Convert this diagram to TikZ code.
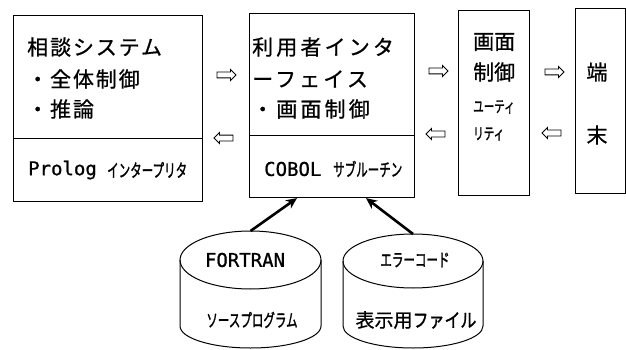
\documentclass[tikz,border=0pt]{standalone}
\usepackage{fontspec}
\usepackage{graphicx}
\usetikzlibrary{shapes.arrows,arrows.meta}
\newfontfamily\jp[LetterSpace=9,FakeBold=0.8]{Noto Sans CJK JP}
\newfontfamily\jpw[LetterSpace=15,FakeBold=0.8]{Noto Sans CJK JP}
\newfontfamily\jpn[FakeBold=0.8]{Noto Sans CJK JP}
\newfontfamily\jpk[FakeBold=1.6]{Noto Sans CJK JP}
\newfontfamily\mono[FakeBold=0.8]{DejaVu Sans Mono}
\newcommand\hkx[3]{\scalebox{#2}[1]{\jpk\fontsize{#1}{#1}\selectfont #3}}
\newcommand\hk[1]{\hkx{18}{0.64}{#1}}
\begin{document}
\begin{tikzpicture}[x=1pt,y=-1pt,
  frame/.style={draw, line width=1.1pt, inner sep=0, anchor=north west},
  big/.style={font=\jp\fontsize{21}{21}\selectfont, inner sep=0, anchor=west},
  bigw/.style={font=\jpw\fontsize{21}{21}\selectfont, inner sep=0, anchor=west},
  bign/.style={font=\jpn\fontsize{21}{21}\selectfont, inner sep=0, anchor=west},
  lat/.style={font=\mono\fontsize{19}{19}\selectfont, inner sep=0, anchor=west},
  kana/.style={inner sep=0, anchor=west},
  harrow/.style={single arrow, draw, line width=0.9pt, inner sep=2.5pt,
    single arrow head extend=2.5pt, minimum height=19pt},
  larrow/.style={harrow, shape border rotate=180},
  cyl/.style={draw, line width=1pt},
  heavy/.style={-{Stealth[length=11pt,width=10pt]}, line width=2.6pt}
]
\useasboundingbox (0,0) rectangle (626,350);

% boxes
\node[frame, minimum width=189pt, minimum height=123pt] (b1a) at (13,15) {};
\node[frame, minimum width=189pt, minimum height=63pt] (b1b) at (13,138) {};
\node[frame, minimum width=165pt, minimum height=122pt] (b2a) at (249,13) {};
\node[frame, minimum width=165pt, minimum height=62pt] (b2b) at (249,135) {};
\node[frame, minimum width=71pt, minimum height=185pt] (b3) at (458,10) {};
\node[frame, minimum width=50pt, minimum height=185pt] (b4) at (575,8) {};

% box 1 texts
\node[big] (t1a) at (27,47) {相談システム};
\node[big] (t1b) at (27,79) {・全体制御};
\node[big] (t1c) at (27,109) {・推論};
\node[lat] (t1d) at (28,170) {Prolog};
\node[kana] (t1e) at (107,170) {\hk{インタープリタ}};

% box 2 texts
\node[bigw] (t2a) at (252,47) {利用者インタ};
\node[bigw] (t2b) at (252,79) {ーフェイス};
\node[bigw] (t2c) at (252,109) {・画面制御};
\node[lat] (t2d) at (264,169) {COBOL};
\node[kana] (t2e) at (333,169) {\hk{サブルーチン}};

% box 3 texts
\node[bign] (t3a) at (473,42) {画面};
\node[bign] (t3b) at (473,72) {制御};
\node[kana] (t3c) at (473,107) {\hkx{16}{0.66}{ユーティ}};
\node[kana] (t3d) at (473,134) {\hkx{16}{0.66}{リティ}};

% box 4 texts
\node[bign, anchor=center] (t4a) at (597,72) {端};
\node[bign, anchor=center] (t4b) at (597,135) {末};

% hollow arrows
\node[harrow] (a12r) at (225,75) {};
\node[larrow] (a12l) at (225,138) {};
\node[harrow] (a23r) at (437,71) {};
\node[larrow] (a23l) at (437,134) {};
\node[harrow] (a34r) at (553,72) {};
\node[larrow] (a34l) at (553,133) {};

% cylinder 1
\draw[cyl] (180,260) -- (180,326) arc[start angle=180, end angle=360, x radius=70.5pt, y radius=22pt] -- (321,260);
\draw[cyl] (250.5,260) ellipse[x radius=70.5pt, y radius=29pt];
\coordinate (c1) at (250.5,231);
\node[lat, anchor=center] (f1) at (245,260) {FORTRAN};
\node[kana, anchor=center] (f2) at (252,320) {\hk{ソースプログラム}};

% cylinder 2
\draw[cyl] (343,261) -- (343,326) arc[start angle=180, end angle=360, x radius=70pt, y radius=22pt] -- (483,261);
\draw[cyl] (413,261) ellipse[x radius=70pt, y radius=27pt];
\coordinate (c2) at (413,234);
\node[kana, anchor=center] (e1) at (415,260) {\hk{エラーコード}};
\node[kana, anchor=center] (e2) at (416,320) {{\jpn\fontsize{19}{19}\selectfont 表示用}\hkx{19}{0.84}{ファイル}};

% heavy arrows
\draw[heavy] (c1) -- ([xshift=48pt]b2b.south west);
\draw[heavy] (c2) -- ([xshift=117pt]b2b.south west);
\end{tikzpicture}
\end{document}
